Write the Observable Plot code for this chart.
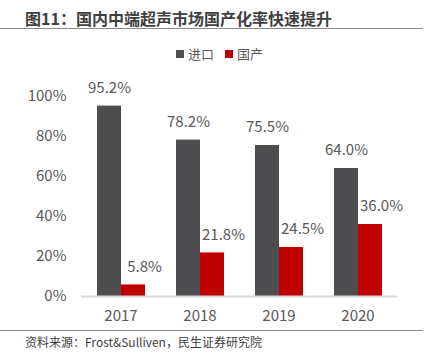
<!DOCTYPE html>
<html><head><meta charset="utf-8">
<script src="https://cdn.jsdelivr.net/npm/d3@7"></script>
<script src="https://cdn.jsdelivr.net/npm/@observablehq/plot@0.6"></script>
<style>
body{margin:0;background:#fff;font-family:"Noto Sans CJK SC","Noto Sans",sans-serif;}
#wrap{position:relative;width:436px;height:361px;overflow:hidden;background:#fff}
#title{position:absolute;left:25px;top:8px;font-size:16px;font-weight:bold;color:#404040;line-height:20px;white-space:nowrap}
.hr{position:absolute;left:0;width:423px;height:0;border-top:1.5px solid #8a8a8a}
#legend{position:absolute;top:45px;left:176px;font-size:13px;color:#595959;line-height:18px;white-space:nowrap}
#legend span.sw{display:inline-block;width:8px;height:8px;margin-right:4px;vertical-align:1px}
#legend span.item{margin-right:11px}
#chart{position:absolute;left:0;top:60px}
#caption{position:absolute;left:25px;top:334px;font-size:12px;color:#404040;line-height:16px;white-space:nowrap}
</style></head>
<body>
<div id="wrap">
  <div id="title">图11：国内中端超声市场国产化率快速提升</div>
  <div class="hr" style="top:28px"></div>
  <div id="legend"></div>
  <div id="chart"></div>
  <div class="hr" style="top:330px"></div>
  <div id="caption">资料来源：Frost&amp;Sulliven，民生证券研究院</div>
</div>
<script>
const years = ["2017", "2018", "2019", "2020"];
const seriesNames = ["进口", "国产"];
const importShare = [95.2, 78.2, 75.5, 64.0];
const domesticShare = [5.8, 21.8, 24.5, 36.0];
const colors = ["#4e4e50", "#c00000"];
const yTicks = [0, 20, 40, 60, 80, 100];

const data = [];
years.forEach((y, i) => {
  data.push({year: y, series: seriesNames[0], value: importShare[i]});
  data.push({year: y, series: seriesNames[1], value: domesticShare[i]});
});
const importData = data.filter(d => d.series === seriesNames[0]);
const domesticData = data.filter(d => d.series === seriesNames[1]);

const legend = document.getElementById("legend");
seriesNames.forEach((s, i) => {
  const item = document.createElement("span");
  item.className = "item";
  item.innerHTML = `<span class="sw" style="background:${colors[i]}"></span>${s}`;
  legend.appendChild(item);
});

const fmt = d => d.value.toFixed(1) + "%";
const chart = Plot.plot({
  width: 436,
  height: 270,
  marginTop: 36,
  marginBottom: 34,
  marginLeft: 80,
  marginRight: 38,
  style: {fontSize: "15px", fontFamily: '"Noto Sans CJK SC","Noto Sans",sans-serif', color: "#595959", background: "transparent"},
  fx: {domain: years, padding: 0, label: null, axis: "bottom", tickSize: 0, tickPadding: 14},
  x: {domain: seriesNames, paddingInner: 0, paddingOuter: 0.59, axis: null},
  y: {domain: [0, 100], ticks: yTicks, tickFormat: d => d + "%", tickSize: 0, tickPadding: 15, label: null},
  color: {domain: seriesNames, range: colors},
  marks: [
    Plot.barY(data, {fx: "year", x: "series", y: "value", fill: "series"}),
    Plot.text(importData, {fx: "year", x: "series", y: "value", text: fmt, dy: -18, fill: "#595959", fontSize: 15}),
    Plot.text(domesticData, {fx: "year", x: "series", y: "value", text: fmt, dy: -18, dx: 11, fill: "#595959", fontSize: 15}),
    Plot.ruleY([0], {stroke: "#d9d9d9", strokeWidth: 2})
  ]
});
document.getElementById("chart").appendChild(chart);
</script>
</body></html>
